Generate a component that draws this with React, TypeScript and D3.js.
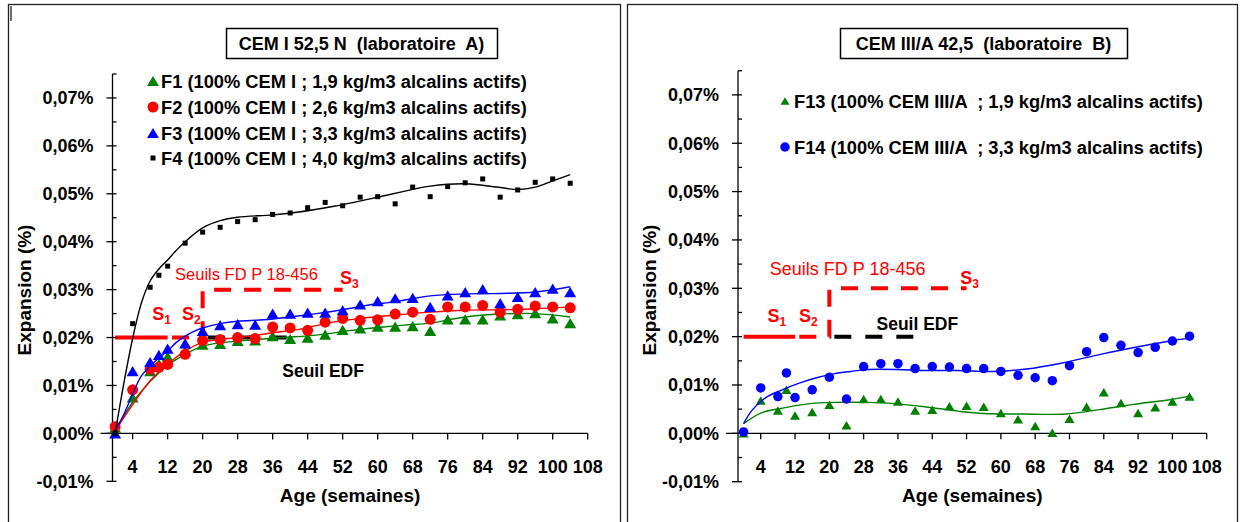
import React from "react";
import * as d3 from "d3";

const W = 1241;
const H = 522;
const FONT = "'Liberation Sans', Arial, Helvetica, sans-serif";

// measurement ages (weeks)
const weeks = [0, 4, 8, 10, 12, 16, 20, 24, 28, 32, 36, 40, 44, 48, 52, 56, 60, 64, 68, 72, 76, 80, 84, 88, 92, 96, 100, 104];

// expansion values (%) - laboratoire A
const f1 = [0.0012, 0.0075, 0.013, 0.0145, 0.016, 0.0172, 0.0185, 0.0187, 0.0193, 0.0194, 0.0203, 0.0197, 0.02, 0.0206, 0.0216, 0.0219, 0.0223, 0.0223, 0.0224, 0.0214, 0.0238, 0.0238, 0.0238, 0.0246, 0.0249, 0.0251, 0.024, 0.023];
const f2 = [0.0014, 0.0091, 0.0134, 0.0138, 0.0144, 0.0165, 0.0194, 0.0196, 0.02, 0.0198, 0.0222, 0.022, 0.0215, 0.0232, 0.024, 0.0236, 0.0237, 0.0249, 0.0253, 0.0238, 0.0264, 0.0264, 0.0267, 0.0253, 0.0259, 0.0266, 0.0264, 0.0262];
const f3 = [0, 0.013, 0.0149, 0.0164, 0.0177, 0.0188, 0.0214, 0.0226, 0.0228, 0.0227, 0.025, 0.025, 0.0252, 0.0252, 0.0257, 0.0269, 0.0276, 0.0282, 0.0283, 0.0264, 0.0288, 0.0295, 0.0301, 0.0272, 0.0285, 0.0295, 0.0302, 0.0295];
const f4 = [0, 0.0229, 0.0305, 0.033, 0.0349, 0.0397, 0.042, 0.043, 0.0442, 0.0446, 0.0457, 0.046, 0.0471, 0.0482, 0.0475, 0.0493, 0.0494, 0.0479, 0.0514, 0.0494, 0.0515, 0.0523, 0.0531, 0.0493, 0.0508, 0.0524, 0.0531, 0.0522];

// expansion values (%) - laboratoire B
const f13 = [0, 0.0068, 0.0047, 0.009, 0.0037, 0.0044, 0.0059, 0.0017, 0.0071, 0.0071, 0.0066, 0.0047, 0.0049, 0.0056, 0.0057, 0.0055, 0.0042, 0.0029, 0.0015, 0.0001, 0.003, 0.0055, 0.0085, 0.0063, 0.0042, 0.0054, 0.0066, 0.0076];
const f14 = [0.0003, 0.0094, 0.0076, 0.0125, 0.0074, 0.009, 0.0116, 0.0071, 0.0138, 0.0144, 0.0144, 0.0134, 0.0138, 0.0137, 0.0134, 0.0134, 0.0128, 0.012, 0.0115, 0.0109, 0.014, 0.0169, 0.0198, 0.0182, 0.0167, 0.0178, 0.0191, 0.0201];

// trend curves [week, %]
const f1Trend = [[0, 0.0005], [4, 0.0065], [8, 0.0108], [12, 0.0142], [16, 0.0165], [20, 0.0182], [24, 0.0189], [30, 0.0194], [38, 0.02], [46, 0.0205], [54, 0.0215], [60, 0.0221], [66, 0.0226], [72, 0.023], [80, 0.0243], [88, 0.0249], [96, 0.025], [104, 0.0243]];
const f2Trend = [[0, 0.0005], [4, 0.006], [8, 0.011], [12, 0.0144], [16, 0.0172], [20, 0.019], [24, 0.0196], [30, 0.0202], [36, 0.021], [42, 0.0217], [48, 0.0229], [56, 0.024], [64, 0.0247], [72, 0.0253], [80, 0.0257], [88, 0.0258], [96, 0.026], [104, 0.0264]];
const f3Trend = [[0, 0.0005], [2, 0.004], [4, 0.0082], [6, 0.012], [8, 0.014], [10, 0.0158], [12, 0.0172], [14, 0.019], [16, 0.0203], [18, 0.0213], [20, 0.022], [24, 0.0229], [28, 0.0234], [34, 0.0237], [40, 0.0243], [46, 0.025], [52, 0.0258], [58, 0.0268], [64, 0.0275], [72, 0.0287], [80, 0.0291], [88, 0.0292], [96, 0.0295], [104, 0.0306]];
const f4Trend = [[0, 0], [2, 0.0105], [4, 0.0198], [6, 0.0272], [8, 0.0318], [10, 0.0343], [12, 0.0362], [14, 0.0382], [16, 0.04], [20, 0.0429], [24, 0.0444], [28, 0.0451], [36, 0.0456], [42, 0.0462], [50, 0.0474], [58, 0.0489], [66, 0.0505], [72, 0.0516], [80, 0.0521], [88, 0.0513], [92, 0.0509], [96, 0.0514], [100, 0.0527], [104, 0.054]];
const f13Trend = [[0, 0.002], [4, 0.0042], [9, 0.0052], [15, 0.0061], [21, 0.0064], [29, 0.0064], [36, 0.0061], [44, 0.0053], [50, 0.0046], [56, 0.0041], [65, 0.004], [75, 0.004], [83, 0.0049], [91, 0.006], [99, 0.0069], [104, 0.0077]];
const f14Trend = [[0, 0.002], [2, 0.0048], [5, 0.0073], [9, 0.009], [13, 0.0104], [17, 0.0115], [21, 0.0123], [25, 0.0128], [29, 0.0132], [36, 0.0132], [42, 0.013], [50, 0.013], [58, 0.0128], [66, 0.0133], [74, 0.0145], [84, 0.0165], [92, 0.0179], [100, 0.0192], [104, 0.0197]];

// thresholds
const seuilS1 = [[0, 0.02], [12, 0.02]];
const seuilFD = [[13, 0.02], [20, 0.02], [20, 0.03], [52, 0.03]];
const seuilEDF = [[20, 0.02], [40, 0.02]];

// axes
const xTicks = [4, 12, 20, 28, 36, 44, 52, 60, 68, 76, 84, 92, 100, 108];
const yTicks = [-0.01, 0, 0.01, 0.02, 0.03, 0.04, 0.05, 0.06, 0.07];
const yTickLabels = ["-0,01%", "0,00%", "0,01%", "0,02%", "0,03%", "0,04%", "0,05%", "0,06%", "0,07%"];
const yMinorTicks = [-0.005, 0.005, 0.015, 0.025, 0.035, 0.045, 0.055, 0.065, 0.075];

const GREEN = "#008000";
const RED = "#ff0000";
const BLUE = "#0000ff";

const leftPanel = {
  frame: [8.5, 4.5, 612, 540],
  title: "CEM I 52,5 N  (laboratoire  A)",
  box: [226, 28, 271, 30],
  xr: [112.5, 587.7], xMin: -0.6,
  yr: [481.3, 74],
  yTitleX: 31,
  series: [
    { vals: f1, trend: f1Trend, color: GREEN, mark: "tri", size: 12, label: "F1 (100% CEM I ; 1,9 kg/m3 alcalins actifs)" },
    { vals: f2, trend: f2Trend, color: RED, mark: "circle", size: 11, label: "F2 (100% CEM I ; 2,6 kg/m3 alcalins actifs)" },
    { vals: f3, trend: f3Trend, color: BLUE, mark: "tri", size: 12, label: "F3 (100% CEM I ; 3,3 kg/m3 alcalins actifs)" },
    { vals: f4, trend: f4Trend, color: "#000", mark: "square", size: 5, label: "F4 (100% CEM I ; 4,0 kg/m3 alcalins actifs)" },
  ],
  legend: { mx: 153, tx: 161, ys: [81, 107, 133, 158], sizes: [12, 11, 12, 5] },
  fdLabel: [13.7, 0.0321, 16.5],
  s1: [8.5, 0.0237], s2: [15.3, 0.0237], s3: [51.4, 0.0311],
  edfLabel: [38.2, 0.0118],
};

const rightPanel = {
  frame: [627.5, 4.5, 610, 540],
  title: "CEM III/A 42,5  (laboratoire  B)",
  box: [840, 28, 287, 30],
  xr: [738, 1206.7], xMin: -1.3,
  yr: [481.7, 70.7],
  yTitleX: 656,
  series: [
    { vals: f13, trend: f13Trend, color: GREEN, mark: "tri", size: 10, label: "F13 (100% CEM III/A  ; 1,9 kg/m3 alcalins actifs)" },
    { vals: f14, trend: f14Trend, color: BLUE, mark: "circle", size: 9.5, label: "F14 (100% CEM III/A  ; 3,3 kg/m3 alcalins actifs)" },
  ],
  legend: { mx: 785, tx: 794, ys: [101, 147], sizes: [9, 9.5] },
  fdLabel: [6.1, 0.0328, 18],
  s1: [5.6, 0.023], s2: [12.9, 0.023], s3: [50.5, 0.0308],
  edfLabel: [31, 0.0214],
};

function Marker({ type, cx, cy, s, color }) {
  if (type === "tri") {
    const h = s * 0.85;
    return <path d={`M${cx},${cy - h / 2}L${cx + s / 2},${cy + h / 2}L${cx - s / 2},${cy + h / 2}Z`} fill={color} />;
  }
  if (type === "circle") return <circle cx={cx} cy={cy} r={s / 2} fill={color} />;
  return <rect x={cx - s / 2} y={cy - s / 2} width={s} height={s} fill={color} />;
}

function SLabel({ x, y, n }) {
  return (
    <text x={x} y={y} fill={RED} fontFamily={FONT} fontWeight="bold" fontSize={18}>
      S<tspan fontSize={12} dy={4}>{n}</tspan>
    </text>
  );
}

function Panel({ p }) {
  const x = d3.scaleLinear().domain([p.xMin, 108]).range(p.xr);
  const y = d3.scaleLinear().domain([-0.01, 0.075]).range(p.yr);
  const line = d3.line().x((d) => x(d[0])).y((d) => y(d[1]));
  const trendLine = d3.line().x((d) => x(d[0])).y((d) => y(d[1])).curve(d3.curveCatmullRom.alpha(0.5));
  const ax = x(p.xMin);
  const y0 = y(0);
  const [bx, by, bw, bh] = p.box;
  const [fx, fy, fw, fh] = p.frame;
  const midX = (p.xr[0] + p.xr[1]) / 2;

  return (
    <g fontFamily={FONT}>
      <rect x={fx} y={fy} width={fw} height={fh} fill="#fff" stroke="#222" strokeWidth={1.3} />
      <rect x={bx + 0.5} y={by + 0.5} width={bw} height={bh} fill="#fff" stroke="#000" strokeWidth={1.5} />
      <text x={bx + bw / 2} y={by + 22} textAnchor="middle" fontWeight="bold" fontSize={18} style={{ whiteSpace: "pre" }}>
        {p.title}
      </text>

      {/* legend */}
      {p.series.map((s, i) => (
        <g key={s.label}>
          <Marker type={s.mark} cx={p.legend.mx} cy={p.legend.ys[i]} s={p.legend.sizes[i]} color={s.color} />
          <text x={p.legend.tx} y={p.legend.ys[i] + 6.5} fontWeight="bold" fontSize={18.3} style={{ whiteSpace: "pre" }}>
            {s.label}
          </text>
        </g>
      ))}

      {/* thresholds */}
      <path d={line(seuilS1)} fill="none" stroke={RED} strokeWidth={4} />
      <path d={line(seuilFD)} fill="none" stroke={RED} strokeWidth={4} strokeDasharray="17,13" />
      <path d={line(seuilEDF)} fill="none" stroke="#000" strokeWidth={4} strokeDasharray="17,14" strokeDashoffset={26} />
      <text x={x(p.fdLabel[0])} y={y(p.fdLabel[1])} fill={RED} fontSize={p.fdLabel[2]}>Seuils FD P 18-456</text>
      <SLabel x={x(p.s1[0])} y={y(p.s1[1])} n="1" />
      <SLabel x={x(p.s2[0])} y={y(p.s2[1])} n="2" />
      <SLabel x={x(p.s3[0])} y={y(p.s3[1])} n="3" />
      <text x={x(p.edfLabel[0])} y={y(p.edfLabel[1])} fontWeight="bold" fontSize={17.5} style={{ whiteSpace: "pre" }}>Seuil EDF</text>

      {/* axes */}
      <line x1={ax - 12} x2={p.xr[1]} y1={y0} y2={y0} stroke="#000" strokeWidth={1.3} />
      {xTicks.map((t) => (
        <g key={t}>
          <line x1={x(t)} x2={x(t)} y1={y0} y2={y0 + 6} stroke="#000" strokeWidth={1.3} />
          <text x={x(t)} y={473} textAnchor="middle" fontWeight="bold" fontSize={18}>{t}</text>
        </g>
      ))}
      <line x1={ax} x2={ax} y1={y(-0.01)} y2={y(0.075)} stroke="#000" strokeWidth={1.3} />
      {yTicks.map((t, i) => (
        <g key={t}>
          <line x1={ax - 6} x2={ax + 4} y1={y(t)} y2={y(t)} stroke="#000" strokeWidth={1.3} />
          <text x={ax - 19} y={y(t) + 6.5} textAnchor="end" fontWeight="bold" fontSize={18}>{yTickLabels[i]}</text>
        </g>
      ))}
      {yMinorTicks.map((t) => (
        <line key={t} x1={ax} x2={ax + 4} y1={y(t)} y2={y(t)} stroke="#000" strokeWidth={1.3} />
      ))}
      <text x={midX} y={502} textAnchor="middle" fontWeight="bold" fontSize={19}>Age (semaines)</text>
      <text transform={`translate(${p.yTitleX},290) rotate(-90)`} textAnchor="middle" fontWeight="bold" fontSize={19}>
        Expansion (%)
      </text>

      {/* series */}
      {p.series.map((s) => (
        <g key={s.label + "d"}>
          <path d={trendLine(s.trend)} fill="none" stroke={s.color} strokeWidth={1.4} />
          {s.vals.map((v, i) => (
            <Marker key={i} type={s.mark} cx={x(weeks[i])} cy={y(v)} s={s.size} color={s.color} />
          ))}
        </g>
      ))}
    </g>
  );
}

export default function App() {
  return (
    <svg width={W} height={H} style={{ position: "absolute", left: 0, top: 0, background: "#fff" }}>
      <rect width={W} height={H} fill="#fff" />
      <Panel p={leftPanel} />
      <Panel p={rightPanel} />
      <line x1={11} x2={11} y1={6} y2={21} stroke="#222" strokeWidth={1.3} />
    </svg>
  );
}
